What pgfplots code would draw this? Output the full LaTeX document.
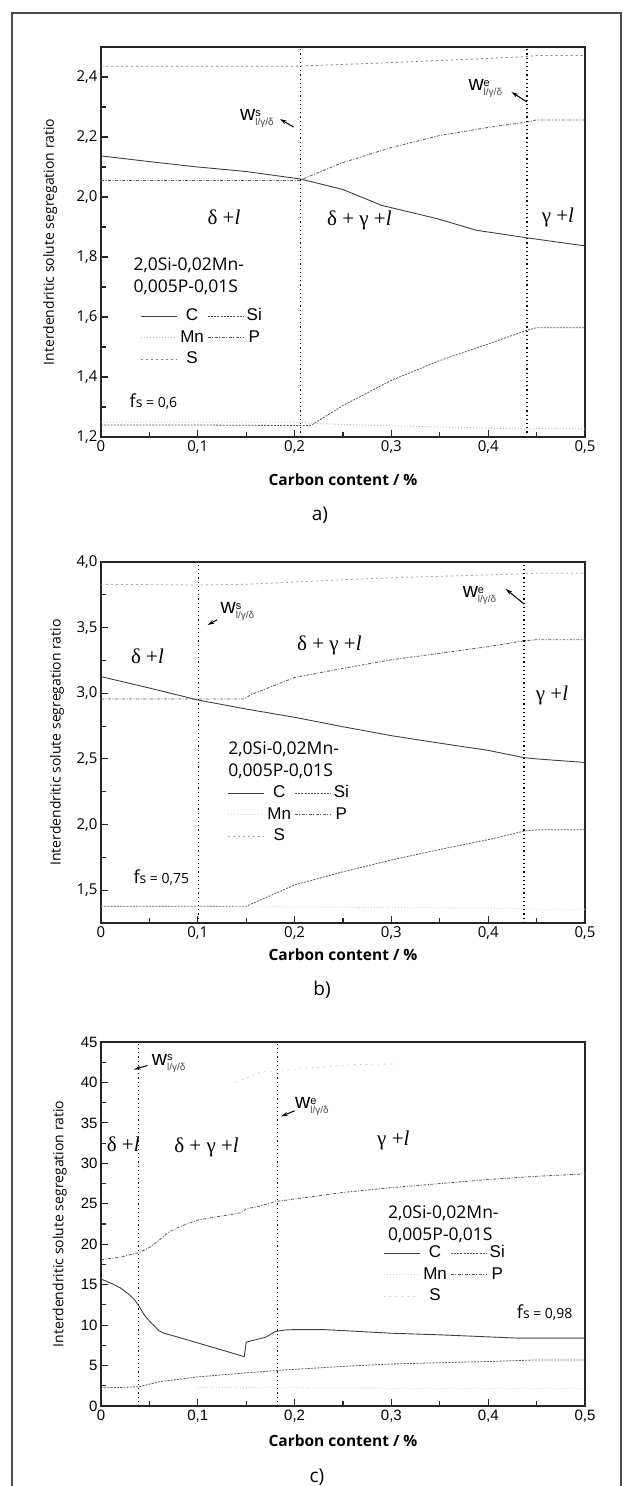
\documentclass[border=0pt]{standalone}
\usepackage{pgfplots}
\pgfplotsset{compat=1.18}
\usepackage{fontspec}
\setmainfont{Open Sans}
\newfontfamily\lsans{Liberation Sans}
\newfontfamily\lserif{Liberation Serif}
\usetikzlibrary{arrows.meta}

\newcommand{\fs}[1]{\fontsize{#1}{#1}\selectfont}
% phase boundary label: w with stacked super/subscript
\newcommand{\wlab}[1]{w\raisebox{-5pt}{\shortstack[l]{\fs{11}#1\\[-1pt]{\fs{10}\color{black!70}l/γ/δ}}}}

% curve styles
\tikzset{
  cC/.style={black!75, line width=0.9pt},
  cSi/.style={black!65, line width=0.8pt, dash pattern=on 2pt off 1.2pt},
  cMn/.style={black!30, line width=0.8pt, dash pattern=on 1pt off 2pt},
  cP/.style={black!65, line width=0.8pt, dash pattern=on 3pt off 1.5pt on 1pt off 1.5pt},
  cS/.style={black!50, line width=0.8pt, dash pattern=on 2pt off 3pt},
  bnd/.style={black, line width=1.2pt, dash pattern=on 1.2pt off 3pt},
  warr/.style={-{Stealth[length=7pt,width=4pt]}, line width=1pt},
  reg/.style={font=\lserif\fs{21}},
  wl/.style={font=\lsans\fs{21}},
}

\pgfplotsset{
  seg/.style={
    width=484pt, height=#1, scale only axis,
    xmin=0, xmax=0.5,
    xtick={0,0.1,0.2,0.3,0.4,0.5}, minor x tick num=1, minor y tick num=1,
    tick align=inside, xtick pos=bottom, ytick pos=left,
    major tick length=7pt, minor tick length=5pt,
    axis line style={line width=1.3pt, black!85},
    every tick/.style={line width=1.1pt, black!85},
    /pgf/number format/assume math mode=true,
    tick label style={font=\fs{15}},
    x tick label style={/pgf/number format/.cd, use comma, fixed, precision=1},
    xlabel={Carbon content / \%},
    ylabel={Interdendritic solute segregation ratio},
    xlabel style={font=\bfseries\fs{15.5}, anchor=center},
    ylabel style={font=\fs{14}, anchor=center},
    legend columns=2,
    legend style={draw=none, fill=none, anchor=north west, inner sep=0pt,
      font=\lsans\fs{17},
      nodes={text height=13pt, text depth=3.5pt, inner sep=2.5pt},
      /tikz/every even column/.append style={column sep=1pt}},
    legend image code/.code={\draw[##1] (0pt,0pt) -- (36pt,0pt);},
  },
}

\begin{document}
\begin{tikzpicture}
\useasboundingbox (0pt,0pt) rectangle (622pt,-1486pt);
\draw[line width=1.2pt, black!70] (12pt,-1486pt) -- (12pt,-13pt) -- (621pt,-13pt) -- (621pt,-1486pt);

% ---------------- a) fs = 0,6
\begin{axis}[seg=390pt, at={(101pt,-437pt)}, anchor=south west,
  ymin=1.2, ymax=2.5, ytick={1.2,1.4,1.6,1.8,2.0,2.2,2.4},
  y tick label style={/pgf/number format/.cd, use comma, fixed, fixed zerofill, precision=1},
  xlabel style={at={(axis description cs:0.5,-0.110)}},
  ylabel style={at={(axis description cs:-0.105,0.5)}},
  legend style={at={(axis description cs:0.082,0.338)}}]
\addplot[cC] coordinates {(0,2.137) (0.05,2.118) (0.1,2.1) (0.15,2.085) (0.206,2.06) (0.25,2.025) (0.29,1.972) (0.347,1.928) (0.388,1.889) (0.44,1.864) (0.5,1.837)};
\addplot[cSi] coordinates {(0,1.24) (0.1,1.24) (0.21,1.238) (0.217,1.239) (0.25,1.305) (0.3,1.389) (0.35,1.455) (0.4,1.51) (0.44,1.556) (0.45,1.564) (0.5,1.564)};
\addplot[cMn] coordinates {(0,1.25) (0.1,1.25) (0.2,1.25) (0.22,1.245) (0.3,1.237) (0.4,1.23) (0.44,1.226) (0.45,1.228) (0.5,1.227)};
\addplot[cP] coordinates {(0,2.055) (0.1,2.055) (0.206,2.055) (0.21,2.062) (0.25,2.115) (0.3,2.165) (0.35,2.205) (0.4,2.232) (0.44,2.25) (0.45,2.257) (0.5,2.257)};
\addplot[cS] coordinates {(0,2.436) (0.1,2.436) (0.2,2.436) (0.21,2.437) (0.3,2.448) (0.4,2.462) (0.44,2.468) (0.45,2.472) (0.5,2.472)};
\legend{C,Si,Mn,P,S}
\addplot[bnd, forget plot] coordinates {(0.206,1.215) (0.206,2.5)};
\addplot[bnd, forget plot] coordinates {(0.44,1.215) (0.44,2.5)};
\node[reg] at (axis cs:0.127,1.933) {δ +\textit{l}};
\node[reg] at (axis cs:0.267,1.922) {δ + γ +\textit{l}};
\node[reg] at (axis cs:0.472,1.933) {γ +\textit{l}};
\node[wl, anchor=east] at (axis cs:0.182,2.262) {\wlab{s}};
\draw[warr] (axis cs:0.199,2.233) -- (axis cs:0.185,2.26);
\node[wl, anchor=east] at (axis cs:0.418,2.361) {\wlab{e}};
\draw[warr] (axis cs:0.44,2.317) -- (axis cs:0.424,2.35);
\node[font=\fontsize{17.5}{22}\selectfont, anchor=west, align=left] at (axis cs:0.03,1.736) {2,0Si-0,02Mn-\\0,005P-0,01S};
\node[anchor=west] at (axis cs:0.026,1.317) {{\fs{18}f}{\fs{14}s = 0,6}};
\end{axis}
\node[font=\fs{19}] at (320pt,-515pt) {a)};

% ---------------- b) fs = 0,75
\begin{axis}[seg=361pt, at={(101pt,-923pt)}, anchor=south west,
  ymin=1.25, ymax=4.0, ytick={1.5,2.0,2.5,3.0,3.5,4.0},
  y tick label style={/pgf/number format/.cd, use comma, fixed, fixed zerofill, precision=1},
  xlabel style={at={(axis description cs:0.5,-0.089)}},
  ylabel style={at={(axis description cs:-0.091,0.5)}},
  legend style={at={(axis description cs:0.262,0.39)}}]
\addplot[cC] coordinates {(0,3.127) (0.05,3.04) (0.1,2.949) (0.15,2.88) (0.2,2.817) (0.25,2.745) (0.3,2.677) (0.35,2.62) (0.4,2.565) (0.437,2.51) (0.45,2.5) (0.5,2.473)};
\addplot[cSi] coordinates {(0,1.378) (0.1,1.378) (0.15,1.378) (0.16,1.41) (0.2,1.54) (0.25,1.64) (0.3,1.73) (0.35,1.81) (0.4,1.885) (0.437,1.95) (0.45,1.96) (0.5,1.96)};
\addplot[cMn, black!18] coordinates {(0,1.38) (0.03,1.38) (0.25,1.37) (0.437,1.362) (0.45,1.355) (0.5,1.355)};
\addplot[cP] coordinates {(0,2.957) (0.1,2.957) (0.148,2.957) (0.155,2.99) (0.2,3.12) (0.25,3.19) (0.3,3.255) (0.35,3.305) (0.4,3.355) (0.437,3.4) (0.45,3.408) (0.5,3.408)};
\addplot[cS, black!35] coordinates {(0,3.83) (0.1,3.825) (0.15,3.83) (0.25,3.865) (0.3,3.88) (0.437,3.91) (0.45,3.915) (0.5,3.915)};
\legend{C,Si,Mn,P,S}
\addplot[bnd, forget plot] coordinates {(0.101,1.25) (0.101,4.0)};
\addplot[bnd, forget plot] coordinates {(0.437,1.25) (0.437,4.0)};
\node[reg] at (axis cs:0.048,3.28) {δ +\textit{l}};
\node[reg] at (axis cs:0.236,3.364) {δ + γ +\textit{l}};
\node[reg] at (axis cs:0.466,2.98) {γ +\textit{l}};
\node[wl, anchor=west] at (axis cs:0.12,3.62) {\wlab{s}};
\draw[warr] (axis cs:0.12,3.56) -- (axis cs:0.11,3.52);
\node[wl, anchor=east] at (axis cs:0.412,3.745) {\wlab{e}};
\draw[warr] (axis cs:0.437,3.68) -- (axis cs:0.418,3.796);
\node[font=\fontsize{17.5}{22}\selectfont, anchor=west, align=left] at (axis cs:0.128,2.487) {2,0Si-0,02Mn-\\0,005P-0,01S};
\node[anchor=west] at (axis cs:0.03,1.594) {{\fs{18}f}{\fs{14}s = 0,75}};
\end{axis}
\node[font=\fs{19}] at (322pt,-990pt) {b)};

% ---------------- c) fs = 0,98
\begin{axis}[seg=364pt, at={(101pt,-1406pt)}, anchor=south west,
  ymin=0, ymax=45, ytick={0,5,10,15,20,25,30,35,40,45},
  tick label style={font=\lsans\fs{15}},
  xlabel style={at={(axis description cs:0.5,-0.096)}},
  ylabel style={at={(axis description cs:-0.085,0.5)}},
  legend style={at={(axis description cs:0.584,0.45)}}]
\addplot[cC] coordinates {(0,15.7) (0.01,15.2) (0.02,14.6) (0.03,13.7) (0.035,13.1) (0.04,12.2) (0.045,11.2) (0.05,10.5) (0.055,9.9) (0.06,9.3) (0.065,9.0) (0.08,8.5) (0.1,7.8) (0.12,7.1) (0.148,6.1) (0.15,7.9) (0.16,8.2) (0.17,8.5) (0.18,9.2) (0.19,9.4) (0.2,9.45) (0.23,9.45) (0.3,9.0) (0.35,8.8) (0.4,8.55) (0.43,8.4) (0.5,8.4)};
\addplot[cSi] coordinates {(0,2.25) (0.02,2.3) (0.04,2.4) (0.06,3.0) (0.1,3.6) (0.15,4.1) (0.182,4.4) (0.25,4.9) (0.3,5.2) (0.4,5.5) (0.45,5.7) (0.5,5.7)};
\addplot[cMn, black!18] coordinates {(0.1,2.3) (0.2,2.25) (0.3,2.2) (0.4,2.2) (0.5,2.2)};
\addplot[cP] coordinates {(0,18.1) (0.02,18.4) (0.04,19.0) (0.05,19.6) (0.06,20.5) (0.07,21.5) (0.08,22.1) (0.1,23.0) (0.12,23.4) (0.145,23.9) (0.15,24.4) (0.16,24.6) (0.182,25.3) (0.2,25.6) (0.25,26.4) (0.3,27.0) (0.35,27.5) (0.4,28.0) (0.45,28.4) (0.5,28.7)};
\addplot[cS, black!25, dash pattern=on 1pt off 5pt] coordinates {(0.14,40.0) (0.145,40.3) (0.165,41.3) (0.26,42.2) (0.31,42.3)};
\legend{C,Si,Mn,P,S}
\addplot[bnd, forget plot] coordinates {(0.039,0.5) (0.039,45)};
\addplot[bnd, forget plot] coordinates {(0.182,0.5) (0.182,45)};
\node[reg] at (axis cs:0.023,32.3) {δ +\textit{l}};
\node[reg] at (axis cs:0.109,32.0) {δ + γ +\textit{l}};
\node[reg] at (axis cs:0.302,32.8) {γ +\textit{l}};
\node[wl, anchor=west] at (axis cs:0.049,42.4) {\wlab{s}};
\draw[warr] (axis cs:0.048,42.1) -- (axis cs:0.034,41.6);
\node[wl, anchor=west] at (axis cs:0.197,37.0) {\wlab{e}};
\draw[warr] (axis cs:0.2,36.5) -- (axis cs:0.186,35.8);
\node[font=\fontsize{17.5}{22}\selectfont, anchor=west, align=left] at (axis cs:0.293,22.5) {2,0Si-0,02Mn-\\0,005P-0,01S};
\node[anchor=west] at (axis cs:0.426,11.56) {{\fs{18}f}{\fs{14}s = 0,98}};
\end{axis}
\node[font=\fs{19}] at (317pt,-1477pt) {c)};
\end{tikzpicture}
\end{document}
